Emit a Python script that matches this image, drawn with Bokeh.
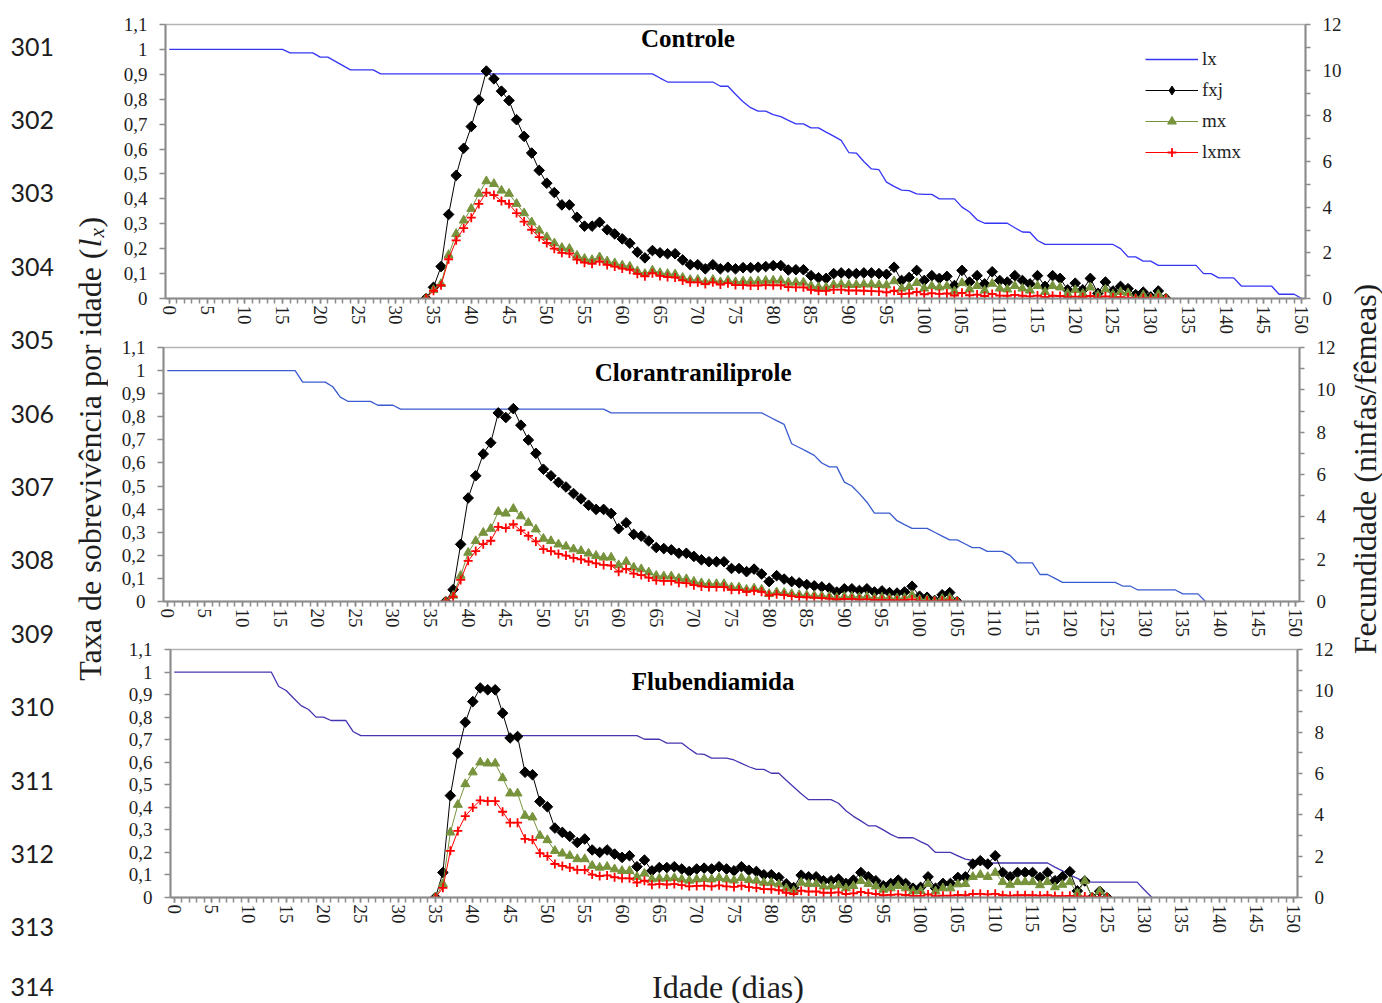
import math
from bokeh.plotting import figure
from bokeh.layouts import row, column
from bokeh.models import (Range1d, LinearAxis, FixedTicker, CustomJSTickFormatter,
                          Label, Legend, LegendItem)
from bokeh.embed import file_html
from bokeh.resources import INLINE

# ---------------- data ----------------
DAYS = list(range(0, 151))
X_TICKS = list(range(0, 151, 5))
LX_TICKS = [0, 0.1, 0.2, 0.3, 0.4, 0.5, 0.6, 0.7, 0.8, 0.9, 1.0, 1.1]
FEC_TICKS = [0, 2, 4, 6, 8, 10, 12]
FEC_MINOR = [1, 3, 5, 7, 9, 11]
SERIES = ["lx", "fxj", "mx", "lxmx"]
TITLES = ["Controle", "Clorantraniliprole", "Flubendiamida"]
LINE_NUMBERS = ["301", "302", "303", "304", "305", "306", "307", "308", "309",
                "310", "311", "312", "313", "314"]

# Controle
controle_lx = [
    1, 1, 1, 1, 1, 1, 1, 1, 1, 1,
    1, 1, 1, 1, 1, 1, 0.986, 0.986, 0.986, 0.986,
    0.969, 0.969, 0.952, 0.935, 0.918, 0.918, 0.918, 0.918, 0.902, 0.902,
    0.902, 0.902, 0.902, 0.902, 0.902, 0.902, 0.902, 0.902, 0.902, 0.902,
    0.902, 0.902, 0.902, 0.902, 0.902, 0.902, 0.902, 0.902, 0.902, 0.902,
    0.902, 0.902, 0.902, 0.902, 0.902, 0.902, 0.902, 0.902, 0.902, 0.902,
    0.902, 0.902, 0.902, 0.902, 0.902, 0.885, 0.869, 0.869, 0.869, 0.869,
    0.869, 0.869, 0.869, 0.852, 0.852, 0.82, 0.79, 0.766, 0.752, 0.752,
    0.738, 0.73, 0.715, 0.701, 0.701, 0.685, 0.685, 0.668, 0.652, 0.635,
    0.586, 0.584, 0.55, 0.52, 0.517, 0.467, 0.45, 0.435, 0.433, 0.42,
    0.418, 0.418, 0.4, 0.4, 0.4, 0.367, 0.347, 0.316, 0.302, 0.302,
    0.302, 0.302, 0.284, 0.267, 0.266, 0.233, 0.217, 0.217, 0.217, 0.217,
    0.217, 0.217, 0.217, 0.217, 0.217, 0.217, 0.2, 0.167, 0.167, 0.15,
    0.15, 0.133, 0.133, 0.133, 0.133, 0.133, 0.133, 0.1, 0.1, 0.083,
    0.083, 0.083, 0.05, 0.05, 0.05, 0.05, 0.05, 0.017, 0.017, 0.017,
    0]
controle_first_day = 34
controle_fxj = [
    0, 0.49, 1.40, 3.68, 5.39, 6.58, 7.53, 8.70, 9.96, 9.62,
    9.08, 8.67, 7.83, 7.10, 6.37, 5.61, 5.05, 4.64, 4.10, 4.10,
    3.56, 3.17, 3.17, 3.34, 3.01, 2.83, 2.61, 2.42, 2.03, 1.78,
    2.10, 2.00, 1.96, 1.96, 1.69, 1.48, 1.48, 1.30, 1.48, 1.30,
    1.37, 1.30, 1.35, 1.35, 1.37, 1.40, 1.44, 1.44, 1.25, 1.26,
    1.26, 1.00, 0.91, 0.88, 1.09, 1.12, 1.09, 1.09, 1.12, 1.12,
    1.09, 1.06, 1.37, 0.79, 0.92, 1.23, 0.79, 1.00, 0.88, 0.97,
    0.57, 1.23, 0.72, 1.00, 0.64, 1.17, 0.79, 0.72, 1.00, 0.79,
    0.64, 1.00, 0.53, 1.00, 0.88, 0.38, 0.67, 0.38, 0.88, 0.23,
    0.72, 0.33, 0.53, 0.43, 0.17, 0.28, 0.07, 0.33, 0]
controle_mx = [
    0, 0.38, 0.64, 1.91, 2.83, 3.42, 3.93, 4.59, 5.14, 5.02,
    4.73, 4.59, 4.15, 3.74, 3.34, 2.98, 2.69, 2.42, 2.22, 2.18,
    1.88, 1.74, 1.69, 1.81, 1.63, 1.55, 1.45, 1.40, 1.20, 1.08,
    1.23, 1.12, 1.08, 1.06, 0.91, 0.82, 0.82, 0.72, 0.82, 0.72,
    0.79, 0.72, 0.75, 0.75, 0.76, 0.78, 0.79, 0.79, 0.70, 0.70,
    0.70, 0.56, 0.50, 0.49, 0.60, 0.62, 0.60, 0.60, 0.62, 0.62,
    0.60, 0.58, 0.76, 0.44, 0.51, 0.68, 0.44, 0.55, 0.49, 0.54,
    0.32, 0.68, 0.40, 0.55, 0.35, 0.65, 0.44, 0.40, 0.55, 0.44,
    0.35, 0.55, 0.29, 0.55, 0.49, 0.21, 0.37, 0.21, 0.49, 0.13,
    0.40, 0.18, 0.29, 0.24, 0.00, 0.15, 0.00, 0.18, 0]
controle_lxmx = [
    0, 0.34, 0.58, 1.72, 2.55, 3.08, 3.54, 4.14, 4.64, 4.53,
    4.27, 4.14, 3.74, 3.37, 3.01, 2.69, 2.43, 2.18, 2.00, 1.97,
    1.70, 1.57, 1.52, 1.63, 1.47, 1.40, 1.31, 1.26, 1.08, 0.97,
    1.11, 0.99, 0.94, 0.92, 0.79, 0.71, 0.71, 0.63, 0.71, 0.61,
    0.67, 0.59, 0.59, 0.57, 0.57, 0.59, 0.58, 0.58, 0.50, 0.49,
    0.49, 0.38, 0.34, 0.33, 0.39, 0.39, 0.35, 0.35, 0.34, 0.32,
    0.31, 0.27, 0.34, 0.19, 0.22, 0.29, 0.18, 0.23, 0.20, 0.22,
    0.13, 0.25, 0.14, 0.17, 0.11, 0.20, 0.13, 0.12, 0.16, 0.12,
    0.09, 0.13, 0.06, 0.12, 0.11, 0.05, 0.08, 0.05, 0.11, 0.03,
    0.09, 0.04, 0.06, 0.04, 0, 0.02, 0, 0.02, 0]

# Clorantraniliprole
cloran_lx = [
    1, 1, 1, 1, 1, 1, 1, 1, 1, 1,
    1, 1, 1, 1, 1, 1, 1, 1, 0.95, 0.95,
    0.95, 0.95, 0.93, 0.885, 0.867, 0.867, 0.867, 0.867, 0.85, 0.85,
    0.85, 0.833, 0.833, 0.833, 0.833, 0.833, 0.833, 0.833, 0.833, 0.833,
    0.833, 0.833, 0.833, 0.833, 0.833, 0.833, 0.833, 0.833, 0.833, 0.833,
    0.833, 0.833, 0.833, 0.833, 0.833, 0.833, 0.833, 0.833, 0.833, 0.817,
    0.817, 0.817, 0.817, 0.817, 0.817, 0.817, 0.817, 0.817, 0.817, 0.817,
    0.817, 0.817, 0.817, 0.817, 0.817, 0.817, 0.817, 0.817, 0.817, 0.817,
    0.8, 0.783, 0.767, 0.683, 0.667, 0.65, 0.633, 0.6, 0.583, 0.583,
    0.517, 0.5, 0.467, 0.43, 0.383, 0.383, 0.383, 0.35, 0.333, 0.317,
    0.317, 0.317, 0.3, 0.283, 0.267, 0.267, 0.25, 0.233, 0.233, 0.217,
    0.217, 0.217, 0.2, 0.167, 0.167, 0.167, 0.117, 0.117, 0.1, 0.083,
    0.083, 0.083, 0.083, 0.083, 0.083, 0.083, 0.083, 0.067, 0.067, 0.05,
    0.05, 0.05, 0.05, 0.05, 0.05, 0.033, 0.033, 0.033, 0]
cloran_first_day = 37
cloran_fxj = [
    0, 0.56, 2.70, 4.89, 5.94, 6.97, 7.50, 8.91, 8.69, 9.11,
    8.33, 7.63, 7.00, 6.25, 5.94, 5.63, 5.41, 5.10, 4.85, 4.55,
    4.35, 4.35, 4.16, 3.44, 3.72, 3.17, 3.09, 2.86, 2.55, 2.50,
    2.44, 2.28, 2.28, 2.13, 1.97, 1.88, 1.88, 1.88, 1.56, 1.56,
    1.41, 1.53, 1.30, 0.94, 1.22, 1.06, 0.94, 0.88, 0.80, 0.74,
    0.69, 0.63, 0.45, 0.60, 0.60, 0.52, 0.60, 0.45, 0.50, 0.42,
    0.40, 0.45, 0.72, 0.25, 0.20, 0.05, 0.32, 0.42, 0]
cloran_mx = [
    0, 0.28, 1.22, 2.31, 2.86, 3.25, 3.44, 4.24, 4.16, 4.38,
    4.03, 3.72, 3.41, 2.97, 2.86, 2.70, 2.60, 2.47, 2.39, 2.27,
    2.16, 2.08, 2.08, 1.72, 1.88, 1.61, 1.53, 1.38, 1.22, 1.19,
    1.19, 1.09, 1.06, 0.94, 0.87, 0.83, 0.83, 0.83, 0.67, 0.67,
    0.56, 0.62, 0.56, 0.36, 0.44, 0.41, 0.36, 0.31, 0.30, 0.28,
    0.26, 0.24, 0.18, 0.23, 0.23, 0.20, 0.23, 0.17, 0.19, 0.16,
    0.15, 0.17, 0.30, 0.10, 0.08, 0.02, 0.13, 0.17, 0]
cloran_lxmx = [
    0, 0.23, 1.02, 1.92, 2.38, 2.71, 2.87, 3.53, 3.47, 3.65,
    3.36, 3.10, 2.84, 2.47, 2.38, 2.25, 2.17, 2.06, 1.99, 1.89,
    1.80, 1.73, 1.70, 1.41, 1.54, 1.32, 1.25, 1.13, 1.00, 0.97,
    0.97, 0.89, 0.87, 0.77, 0.71, 0.68, 0.68, 0.68, 0.55, 0.55,
    0.46, 0.51, 0.46, 0.29, 0.34, 0.31, 0.25, 0.21, 0.20, 0.18,
    0.16, 0.14, 0.10, 0.12, 0.12, 0.09, 0.10, 0.07, 0.07, 0.06,
    0.05, 0.06, 0.10, 0.03, 0.03, 0.01, 0.04, 0.05, 0]

# Flubendiamida
fluben_lx = [
    1, 1, 1, 1, 1, 1, 1, 1, 1, 1,
    1, 1, 1, 1, 0.936, 0.918, 0.884, 0.851, 0.834, 0.8,
    0.8, 0.785, 0.785, 0.785, 0.735, 0.718, 0.718, 0.718, 0.718, 0.718,
    0.718, 0.718, 0.718, 0.718, 0.718, 0.718, 0.718, 0.718, 0.718, 0.718,
    0.718, 0.718, 0.718, 0.718, 0.718, 0.718, 0.718, 0.718, 0.718, 0.718,
    0.718, 0.718, 0.718, 0.718, 0.718, 0.718, 0.718, 0.718, 0.718, 0.718,
    0.718, 0.718, 0.718, 0.702, 0.702, 0.702, 0.685, 0.685, 0.685, 0.66,
    0.637, 0.635, 0.618, 0.618, 0.618, 0.61, 0.595, 0.58, 0.568, 0.568,
    0.551, 0.551, 0.52, 0.49, 0.46, 0.434, 0.434, 0.434, 0.434, 0.418,
    0.385, 0.36, 0.34, 0.318, 0.318, 0.3, 0.28, 0.265, 0.265, 0.265,
    0.248, 0.232, 0.2, 0.2, 0.2, 0.185, 0.17, 0.165, 0.16, 0.153,
    0.153, 0.153, 0.153, 0.153, 0.153, 0.153, 0.153, 0.153, 0.135, 0.118,
    0.1, 0.085, 0.068, 0.068, 0.068, 0.068, 0.068, 0.068, 0.068, 0.068,
    0.033, 0]
fluben_first_day = 35
fluben_fxj = [
    0, 1.21, 4.93, 6.98, 8.48, 9.48, 10.14, 10.05, 10.05, 8.92,
    7.72, 7.79, 6.06, 5.94, 4.65, 4.39, 3.36, 3.15, 2.96, 2.66,
    2.83, 2.30, 2.18, 2.30, 2.10, 1.94, 2.02, 1.49, 1.81, 1.29,
    1.45, 1.45, 1.49, 1.38, 1.26, 1.38, 1.42, 1.38, 1.49, 1.38,
    1.29, 1.49, 1.32, 1.26, 1.10, 1.10, 0.97, 0.66, 0.48, 1.08,
    1.00, 1.00, 0.81, 0.81, 0.89, 0.68, 0.84, 1.21, 1.00, 0.81,
    0.57, 0.68, 0.84, 0.68, 0.45, 0.49, 1.00, 0.45, 0.68, 0.68,
    0.97, 1.00, 1.62, 1.78, 1.62, 2.02, 1.21, 1.00, 1.21, 1.21,
    1.21, 0.97, 1.21, 0.81, 1.00, 1.25, 0.32, 0.80, 0, 0.30,
    0]
fluben_mx = [
    0, 0.65, 3.15, 4.49, 5.49, 6.06, 6.54, 6.49, 6.49, 5.78,
    5.04, 5.04, 3.96, 3.88, 2.99, 2.78, 2.26, 2.13, 2.02, 1.86,
    1.86, 1.54, 1.45, 1.49, 1.37, 1.29, 1.29, 1.00, 1.16, 0.89,
    0.92, 0.92, 0.95, 0.88, 0.82, 0.88, 0.90, 0.88, 0.95, 0.88,
    0.83, 0.95, 0.85, 0.82, 0.72, 0.72, 0.64, 0.45, 0.32, 0.72,
    0.66, 0.66, 0.54, 0.54, 0.59, 0.45, 0.56, 0.80, 0.66, 0.54,
    0.38, 0.45, 0.56, 0.45, 0.30, 0.32, 0.66, 0.30, 0.45, 0.45,
    0.64, 0.66, 1.00, 1.10, 1.00, 1.20, 0.75, 0.62, 0.75, 0.75,
    0.75, 0.60, 0.75, 0.50, 0.62, 0.75, 0.20, 0.80, 0, 0.30,
    0]
fluben_lxmx = [
    0, 0.47, 2.26, 3.22, 3.94, 4.35, 4.70, 4.66, 4.66, 4.15,
    3.62, 3.62, 2.84, 2.79, 2.15, 2.00, 1.62, 1.53, 1.45, 1.34,
    1.34, 1.11, 1.04, 1.07, 0.98, 0.93, 0.93, 0.72, 0.81, 0.62,
    0.65, 0.63, 0.65, 0.60, 0.54, 0.56, 0.57, 0.54, 0.59, 0.54,
    0.51, 0.57, 0.50, 0.47, 0.41, 0.40, 0.35, 0.23, 0.16, 0.33,
    0.29, 0.29, 0.23, 0.23, 0.25, 0.17, 0.20, 0.27, 0.21, 0.17,
    0.11, 0.13, 0.15, 0.12, 0.08, 0.08, 0.15, 0.06, 0.09, 0.09,
    0.12, 0.11, 0.17, 0.18, 0.15, 0.18, 0.11, 0.09, 0.11, 0.11,
    0.11, 0.09, 0.11, 0.07, 0.07, 0.08, 0.02, 0.05, 0, 0.02,
    0]

# ---------------- style / geometry ----------------
SERIF = "Liberation Serif"
AXIS_GRAY = "#8c8c8c"
TEXT = "#1e1e1e"
OLIVE = "#77933c"
RED = "#ff0000"
PAGE_H = 1003
LEFT_W = 108
RIGHT_W = 35
PANEL_W = 1382 - LEFT_W - RIGHT_W
BOTTOM_H = 50
RIGHT_EDGE = 1382 - RIGHT_W

lx_fmt = CustomJSTickFormatter(code="return (Math.round(tick*10)/10).toString().replace('.', ',');")


def style_axis(ax, tick_out, standoff):
    ax.axis_line_color = AXIS_GRAY
    ax.axis_line_width = 2
    ax.major_tick_line_color = AXIS_GRAY
    ax.minor_tick_line_color = AXIS_GRAY
    ax.major_tick_line_width = 1.5
    ax.minor_tick_line_width = 1.5
    ax.major_tick_in = 0
    ax.minor_tick_in = 0
    ax.major_tick_out = tick_out
    ax.minor_tick_out = tick_out
    ax.major_label_standoff = standoff
    ax.major_label_text_font = SERIF
    ax.major_label_text_font_size = "19px"
    ax.major_label_text_color = TEXT


def strip(width, height, x0, y_top):
    """A blank figure whose data units are page pixels (y measured upward)."""
    f = figure(width=width, height=height,
               x_range=Range1d(x0, x0 + width),
               y_range=Range1d(PAGE_H - y_top - height, PAGE_H - y_top),
               output_backend="svg", toolbar_location=None, tools="",
               x_axis_location=None, y_axis_location=None, min_border=0,
               frame_align=False,
               outline_line_color=None, background_fill_color="white",
               border_fill_color="white")
    f.grid.visible = False
    return f


def make_panel(lx, first_day, fxj, mx, lxmx, title, title_xy, geom, lx_color, legend_loc=None):
    height, top, bottom, left, right = geom
    p = figure(width=PANEL_W, height=height,
               x_range=Range1d(-0.5, 150.5), y_range=Range1d(0, 1.1),
               output_backend="svg", toolbar_location=None, tools="",
               min_border_left=left, min_border_right=right,
               min_border_top=top, min_border_bottom=bottom,
               frame_align=False,
               background_fill_color="white", border_fill_color="white")
    p.extra_y_ranges = {"fec": Range1d(0, 12)}
    p.grid.visible = False
    p.outline_line_color = "#b4b4b4"
    p.outline_line_width = 1.5

    xa = p.xaxis[0]
    xa.ticker = FixedTicker(ticks=X_TICKS, minor_ticks=DAYS)
    xa.major_label_orientation = "vertical"
    style_axis(xa, 5, 2)

    ya = p.yaxis[0]
    ya.ticker = FixedTicker(ticks=LX_TICKS, minor_ticks=[])
    ya.formatter = lx_fmt
    style_axis(ya, 6, 12)

    ra = LinearAxis(y_range_name="fec",
                    ticker=FixedTicker(ticks=FEC_TICKS, minor_ticks=FEC_MINOR))
    style_axis(ra, 5, 12)
    p.add_layout(ra, "right")

    lx_days = DAYS[:len(lx)]
    fdays = DAYS[first_day:first_day + len(fxj)]

    r_lx = p.line(lx_days, lx, line_color=lx_color, line_width=1.3)
    r_f_l = p.line(fdays, fxj, y_range_name="fec", line_color="black", line_width=1)
    p.scatter(fdays, fxj, y_range_name="fec", marker="square",
              angle=math.pi / 4, size=7.5, fill_color="black", line_color="black")
    r_m_l = p.line(fdays, mx, y_range_name="fec", line_color=OLIVE, line_width=1)
    r_m_p = p.scatter(fdays, mx, y_range_name="fec", marker="triangle", size=9,
                      fill_color=OLIVE, line_color=OLIVE)
    r_l_l = p.line(fdays, lxmx, y_range_name="fec", line_color=RED, line_width=1)
    r_l_p = p.scatter(fdays, lxmx, y_range_name="fec", marker="cross", size=9,
                      line_color=RED, line_width=1.8)

    p.add_layout(Label(x=title_xy[0], y=title_xy[1], text=title, text_font=SERIF,
                       text_font_style="bold", text_font_size="25px", text_color="black",
                       text_align="center", text_baseline="middle"))

    if legend_loc is not None:
        # legend-key glyph only: a diamond like the reference key (its point is NaN, so never drawn)
        key_diamond = p.scatter([float("nan")], [float("nan")], y_range_name="fec",
                                marker="diamond", size=10,
                                fill_color="black", line_color="black")
        leg = Legend(items=[
            LegendItem(label=SERIES[0], renderers=[r_lx]),
            LegendItem(label=SERIES[1], renderers=[r_f_l, key_diamond]),
            LegendItem(label=SERIES[2], renderers=[r_m_l, r_m_p]),
            LegendItem(label=SERIES[3], renderers=[r_l_l, r_l_p]),
        ], location=legend_loc)
        leg.label_text_font = SERIF
        leg.label_text_font_size = "19px"
        leg.label_text_color = TEXT
        leg.glyph_width = 53
        leg.glyph_height = 22
        leg.label_height = 22
        leg.label_standoff = 4
        leg.spacing = 9
        leg.padding = 0
        leg.margin = 0
        leg.border_line_color = None
        leg.background_fill_alpha = 0
        p.add_layout(leg)
    return p


# panel geometry: (height, top border, bottom border, left border, right border)
p1 = make_panel(controle_lx, controle_first_day, controle_fxj, controle_mx, controle_lxmx,
                TITLES[0], (68.7, 1.043), (338, 24, 40, 165 - LEFT_W, RIGHT_EDGE - 1305),
                "#3535f5", legend_loc=(1145 - 165, 135))
p2 = make_panel(cloran_lx, cloran_first_day, cloran_fxj, cloran_mx, cloran_lxmx,
                TITLES[1], (69.9, 0.990), (302, 9, 37, 163 - LEFT_W, RIGHT_EDGE - 1299),
                "#3a5bd0")
p3 = make_panel(fluben_lx, fluben_first_day, fluben_fxj, fluben_mx, fluben_lxmx,
                TITLES[2], (72.2, 0.958), (363 - BOTTOM_H, 9, 56, 170 - LEFT_W, RIGHT_EDGE - 1297),
                "#4436b0")

# ---------------- bottom strip: x title ----------------
bs = strip(PANEL_W, BOTTOM_H, LEFT_W, PAGE_H - BOTTOM_H)
bs.add_layout(Label(x=727.5, y=PAGE_H - 986, text="Idade (dias)", text_font=SERIF,
                    text_font_size="32px", text_color=TEXT, text_align="center",
                    text_baseline="middle"))

# ---------------- left strip: line numbers + y title ----------------
ls = strip(LEFT_W, PAGE_H, 0, 0)
for i, num in enumerate(LINE_NUMBERS):
    cy = min(46 + 73.4 * i, 986)
    ls.add_layout(Label(x=10, y=PAGE_H - cy, text=num, text_font="Lato",
                        text_font_size="25px", text_color=TEXT,
                        text_align="left", text_baseline="middle"))
ang = math.pi / 2
ls.add_layout(Label(x=89, y=PAGE_H - 248, text="Taxa de sobrevivência por idade (", angle=ang,
                    text_font=SERIF, text_font_size="32px", text_color=TEXT,
                    text_align="right", text_baseline="middle"))
ls.add_layout(Label(x=89, y=PAGE_H - 247, text="l", angle=ang, text_font=SERIF,
                    text_font_style="italic", text_font_size="32px", text_color=TEXT,
                    text_align="left", text_baseline="middle"))
ls.add_layout(Label(x=96, y=PAGE_H - 237, text="x", angle=ang, text_font=SERIF,
                    text_font_style="italic", text_font_size="21px", text_color=TEXT,
                    text_align="left", text_baseline="middle"))
ls.add_layout(Label(x=89, y=PAGE_H - 227, text=")", angle=ang, text_font=SERIF,
                    text_font_size="32px", text_color=TEXT,
                    text_align="left", text_baseline="middle"))

# ---------------- right strip: secondary y title ----------------
rs = strip(RIGHT_W, PAGE_H, RIGHT_EDGE, 0)
rs.add_layout(Label(x=1364.7, y=PAGE_H - 468.5, text="Fecundidade (ninfas/fêmeas)", angle=ang,
                    text_font=SERIF, text_font_size="32px", text_color=TEXT,
                    text_align="center", text_baseline="middle"))

layout = row(ls, column(p1, p2, p3, bs, spacing=0), rs, spacing=0)

with open("out.html", "w") as f:
    f.write(file_html(layout, INLINE))
